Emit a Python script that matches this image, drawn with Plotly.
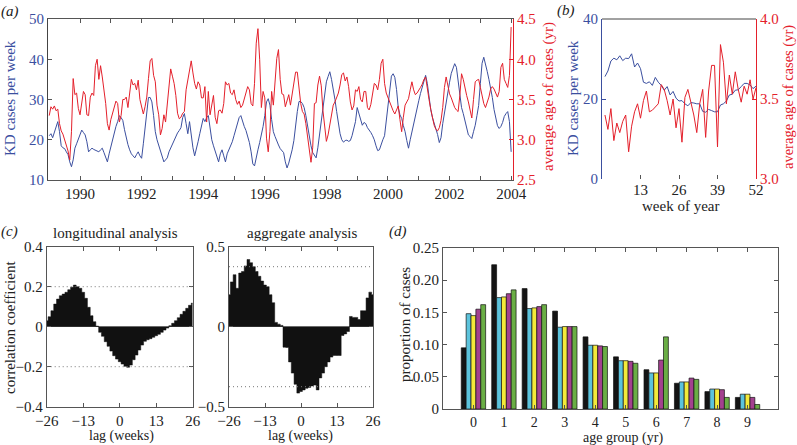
import plotly.graph_objects as go

# ---------------- data ----------------
# (a) weekly series, resampled (one value every 1/18 year from 1989.0)
A_START_YEAR = 1989.0
A_STEP_YEARS = 1 / 18
kd_cases_a = [
    21, 21.5, 20.5, 22, 23, 24.5, 22, 18.5, 18, 17.8,
    17, 16.3, 14.5, 13.3, 15, 17.9, 19, 20.3, 21.5, 22.4,
    21.8, 21.2, 19.5, 17, 17.5, 17.9, 17.6, 17.4, 17.2, 17,
    17.5, 17.9, 16.8, 15.5, 14.5, 16.5, 18.3, 20, 22, 23.3,
    24.5, 26, 25.5, 24.8, 22.5, 20.5, 18.8, 17.5, 16.5, 16,
    15.5, 16.3, 17, 16, 15.4, 19, 23, 27.5, 30.5, 30.5,
    29.4, 26, 22, 20, 18.7, 17.5, 16.2, 14.5, 15, 15.5,
    17, 18, 19, 19.7, 21, 21.7, 22.3, 23, 25.5, 26.5,
    24, 21.5, 24.5, 21, 18, 16, 17.5, 19.5, 21.5, 23.5,
    25.3, 24.5, 25.5, 26, 23, 20, 18.5, 17, 15.5, 14.5,
    16.5, 17.5, 16, 14.5, 16.5, 17.5, 18.3, 19.5, 21, 22.5,
    24, 25.5, 26, 24.5, 23.3, 22.3, 21, 19.3, 17, 14,
    13.5, 15.8, 17.5, 19.3, 21, 23.3, 26, 29.4, 30.2, 28.6,
    25, 22, 20.8, 19.5, 18.7, 17.8, 17.4, 16.8, 14.5, 13,
    14.2, 15.8, 17.5, 19.8, 24, 27, 29.5, 29.5, 29, 28,
    26, 23.5, 20.5, 18.5, 16.8, 16, 15.5, 18, 21.5, 24,
    27, 30.5, 34.4, 35.7, 36.9, 35, 32.8, 30, 27, 24,
    21.5, 20, 19.4, 19.8, 19.9, 19.6, 19.8, 21, 22.5, 24.5,
    28, 26.5, 24.5, 23.6, 24.3, 24, 23, 22.5, 21.8, 21,
    20, 18.5, 17.3, 17.5, 19, 20, 21, 25, 29.5, 33,
    35.8, 36.4, 35.5, 32.5, 28, 26.2, 25.3, 23.5, 22, 19.8,
    17.9, 20, 22, 24.5, 26.5, 28, 29.7, 31.5, 33, 35,
    36, 34, 30.5, 27.5, 25.5, 24.2, 23, 21.3, 19.3, 20.5,
    24, 26.8, 29, 31.8, 34.3, 36.5, 37.8, 38.9, 38, 35,
    31, 28, 26.5, 24.5, 22.8, 21.2, 20.8, 20.3, 22, 23.6,
    26, 28.5, 34, 39, 40.5, 39, 37, 35, 33, 30.5,
    27.5, 25.5, 23.5, 22.8, 23.3, 24.3, 25.8, 26.5, 27, 24.5,
    17,
]
mean_age_a = [
    3.30, 3.41, 3.38, 3.42, 3.36, 3.38, 3.20, 3.11, 3.07, 3.00,
    2.94, 2.86, 2.75, 3.10, 3.76, 3.56, 3.58, 3.39, 3.31, 3.47,
    3.60, 3.56, 3.31, 3.30, 3.53, 3.58, 3.55, 3.92, 4.00, 3.75,
    3.92, 3.78, 3.62, 3.45, 3.20, 3.12, 3.25, 3.33, 3.42, 3.48,
    3.45, 3.22, 3.30, 3.50, 3.50, 3.53, 3.40, 3.55, 3.75, 3.68,
    3.70, 3.62, 3.74, 3.50, 3.40, 3.32, 3.41, 3.53, 3.76, 3.98,
    4.01, 3.80, 3.72, 3.43, 3.31, 3.06, 3.14, 3.31, 3.22, 3.45,
    3.75, 3.88, 3.79, 3.70, 3.55, 3.33, 3.26, 3.28, 3.33, 3.35,
    3.62, 3.75, 3.90, 3.98, 3.83, 3.70, 3.63, 3.72, 3.68, 3.52,
    3.52, 3.66, 3.22, 3.60, 3.31, 3.45, 3.55, 3.28, 3.20, 3.36,
    3.37, 3.33, 3.45, 3.72, 3.68, 3.70, 3.58, 3.56, 3.62, 3.50,
    3.44, 3.48, 3.40, 3.43, 3.50, 3.60, 3.66, 3.62, 3.45, 3.42,
    3.70, 4.20, 4.38, 4.00, 3.40, 3.60, 3.52, 3.02, 2.85, 3.10,
    3.60, 3.43, 3.72, 4.01, 4.12, 3.75, 3.57, 3.56, 3.41, 3.50,
    3.56, 3.43, 3.56, 3.70, 3.84, 3.84, 3.62, 3.45, 3.35, 3.32,
    3.20, 3.02, 2.86, 2.72, 2.90, 3.45, 3.46, 3.68, 3.79, 3.67,
    3.36, 3.17, 2.98, 3.06, 3.18, 3.35, 3.43, 3.47, 3.52, 3.58,
    3.68, 3.81, 3.83, 3.73, 3.78, 3.66, 3.47, 3.37, 3.42, 3.62,
    3.60, 3.66, 3.50, 3.47, 3.60, 3.60, 3.40, 3.37, 3.44, 3.55,
    3.70, 3.68, 3.62, 3.75, 3.95, 4.00, 3.70, 3.58, 3.52, 3.46,
    3.40, 3.36, 3.32, 3.38, 3.42, 3.25, 3.10, 3.28, 3.43, 3.47,
    3.51, 3.62, 3.72, 3.62, 3.56, 3.58, 3.61, 3.65, 3.69, 3.75,
    3.78, 3.62, 3.50, 3.38, 3.28, 3.18, 3.13, 3.11, 3.15, 3.24,
    3.40, 3.65, 3.78, 3.68, 3.57, 3.52, 3.45, 3.40, 3.37, 3.35,
    3.55, 3.82, 3.75, 3.64, 3.55, 3.47, 3.37, 3.27, 3.50, 3.72,
    3.74, 3.75, 3.65, 3.54, 3.45, 3.40, 3.46, 3.53, 3.63, 3.66,
    3.63, 3.58, 3.53, 3.60, 3.90, 3.95, 3.75, 3.70, 3.65, 3.80,
    4.40,
]
year_ticks_a = list(range(1990, 2005))
year_labels_a = [str(y) if y % 2 == 0 else "" for y in year_ticks_a]

# (b) average over the year
weeks_b = list(range(1, 53))
kd_cases_b = [
    25.6, 27.0, 29.5, 30.2, 29.8, 30.8, 29.6, 30.2, 30.1, 31.3,
    28.0, 29.0, 27.6, 24.2, 23.9, 24.3, 23.4, 25.4, 24.2, 23.4,
    22.2, 23.1, 21.0, 21.9, 20.2, 19.5, 19.6, 18.8, 18.3, 19.1,
    19.0, 18.8, 18.8, 16.9, 16.7, 17.4, 17.1, 16.8, 16.8, 18.5,
    18.8, 19.5, 21.0, 21.2, 22.2, 22.3, 23.1, 23.9, 23.9, 23.5,
    22.6, 23.2,
]
mean_age_b = [
    3.40, 3.31, 3.44, 3.24, 3.35, 3.29, 3.36, 3.40, 3.17, 3.33,
    3.42, 3.47, 3.38, 3.49, 3.55, 3.42, 3.43, 3.45, 3.47, 3.59,
    3.56, 3.49, 3.40, 3.50, 3.32, 3.44, 3.23, 3.51, 3.56, 3.48,
    3.40, 3.29, 3.47, 3.56, 3.26, 3.55, 3.71, 3.71, 3.20, 3.84,
    3.73, 3.47, 3.65, 3.53, 3.67, 3.56, 3.48, 3.58, 3.53, 3.62,
    3.50, 3.57,
]

# (c) cross-correlations
lags = list(range(-26, 27))
corr_longitudinal = [
    0.03, 0.05, 0.08, 0.113, 0.138, 0.155, 0.163, 0.172, 0.185, 0.197,
    0.208, 0.2, 0.192, 0.172, 0.142, 0.097, 0.055, 0.025, 0.003, -0.028,
    -0.048, -0.075, -0.098, -0.122, -0.145, -0.162, -0.175, -0.187, -0.198, -0.203,
    -0.192, -0.165, -0.142, -0.117, -0.092, -0.073, -0.065, -0.06, -0.053, -0.045,
    -0.038, -0.028, -0.017, -0.007, 0.005, 0.017, 0.03, 0.045, 0.062, 0.077,
    0.092, 0.107, 0.118,
]
corr_aggregate = [
    0.2, 0.28, 0.325, 0.24, 0.335, 0.345, 0.38, 0.42, 0.40, 0.375,
    0.345, 0.315, 0.285, 0.26, 0.25, 0.2, 0.15, 0.027, 0.016, 0.008,
    -0.128, -0.13, -0.22, -0.29, -0.36, -0.415, -0.405, -0.395, -0.385, -0.38,
    -0.37, -0.365, -0.395, -0.32, -0.29, -0.25, -0.22, -0.19, -0.18, -0.18,
    -0.18, -0.055, -0.045, -0.03, 0.064, 0.058, 0.058, 0.045, 0.1, 0.1,
    0.18, 0.216, 0.2,
]
sig_longitudinal = 0.2
sig_aggregate = 0.375

# (d) age distribution
age_groups = list(range(10))
prop_series_1 = [0.095, 0.224, 0.187, 0.152, 0.112, 0.081, 0.061, 0.040, 0.027, 0.018]
prop_series_2 = [0.148, 0.173, 0.156, 0.127, 0.099, 0.075, 0.056, 0.042, 0.031, 0.023]
prop_series_3 = [0.145, 0.174, 0.157, 0.128, 0.099, 0.075, 0.056, 0.042, 0.031, 0.023]
prop_series_4 = [0.155, 0.179, 0.159, 0.128, 0.098, 0.074, 0.076, 0.048, 0.030, 0.018]
prop_series_5 = [0.162, 0.185, 0.162, 0.128, 0.097, 0.071, 0.112, 0.046, 0.018, 0.007]
prop_ticks = [0, 0.05, 0.10, 0.15, 0.20, 0.25]
prop_tick_labels = ["0", "0.05", "0.10", "0.15", "0.20", "0.25"]

# ---------------- style ----------------
W, H = 797, 445
FONT = "Liberation Serif"
BLUE = "#3b4f9f"
RED = "#e4202b"
AX = "#555555"
BAR_COLORS = ["#141414", "#5cc3dc", "#f3ea3a", "#a3418f", "#6aae45"]


def px(x):
    return x / W


def py(y):
    return 1 - y / H


fig = go.Figure()

xs_a = [A_START_YEAR + i * A_STEP_YEARS for i in range(len(kd_cases_a))]
fig.add_trace(go.Scatter(x=xs_a, y=kd_cases_a, mode="lines", line=dict(color=BLUE, width=1),
                         xaxis="x", yaxis="y", showlegend=False))
xs_r = [A_START_YEAR + i * A_STEP_YEARS for i in range(len(mean_age_a))]
fig.add_trace(go.Scatter(x=xs_r, y=mean_age_a, mode="lines", line=dict(color=RED, width=1),
                         xaxis="x", yaxis="y2", showlegend=False))

fig.add_trace(go.Scatter(x=weeks_b, y=kd_cases_b, mode="lines", line=dict(color=BLUE, width=1),
                         xaxis="x2", yaxis="y3", showlegend=False))
fig.add_trace(go.Scatter(x=weeks_b, y=mean_age_b, mode="lines", line=dict(color=RED, width=1),
                         xaxis="x2", yaxis="y4", showlegend=False))

# correlation "bars" (contiguous unit-width columns) drawn as a filled step curve
fig.add_trace(go.Scatter(x=lags, y=corr_longitudinal, mode="lines", line=dict(color="#111", width=0.5, shape="hvh"),
                         fill="tozeroy", fillcolor="#111", xaxis="x3", yaxis="y5", showlegend=False))
fig.add_trace(go.Scatter(x=lags, y=corr_aggregate, mode="lines", line=dict(color="#111", width=0.5, shape="hvh"),
                         fill="tozeroy", fillcolor="#111", xaxis="x4", yaxis="y6", showlegend=False))

bw = 0.16
for i, (vals, col) in enumerate(zip([prop_series_1, prop_series_2, prop_series_3, prop_series_4, prop_series_5],
                                    BAR_COLORS)):
    fig.add_trace(go.Bar(x=age_groups, y=vals, width=bw, offset=-0.4 + i * bw,
                         marker=dict(color=col, line=dict(color="#111", width=0.7)),
                         xaxis="x5", yaxis="y7", showlegend=False))

tickfont = dict(family=FONT, size=15, color="#222")
common = dict(showgrid=False, zeroline=False, ticks="inside", ticklen=4, tickwidth=1, tickcolor=AX,
              showline=True, linewidth=1, linecolor=AX, tickfont=tickfont, automargin=False)

dom_a_y = [py(180), py(19)]
dom_c_y = [py(406.7), py(246.7)]
dom_d_y = [py(409), py(248)]

layout_axes = dict(
    xaxis=dict(common, domain=[px(48), px(513)], anchor="y", range=[1988.96, 2004.06],
               tickvals=year_ticks_a, ticktext=year_labels_a, mirror="ticks"),
    yaxis=dict(common, domain=dom_a_y, anchor="x", range=[10, 50], tickvals=[10, 20, 30, 40, 50],
               tickfont=dict(family=FONT, size=15, color=BLUE), linecolor="#444"),
    yaxis2=dict(common, overlaying="y", side="right", anchor="x", range=[2.5, 4.5],
                tickvals=[2.5, 3.0, 3.5, 4.0, 4.5], tickformat=".1f",
                tickfont=dict(family=FONT, size=15, color=RED), linecolor=RED, tickcolor=RED),
    xaxis2=dict(common, domain=[px(602), px(756)], anchor="y3", range=[0, 52],
                tickvals=[13, 26, 39, 52], showline=False),
    yaxis3=dict(common, domain=[py(179), py(19)], anchor="x2", range=[0, 40], tickvals=[0, 20, 40],
                tickfont=dict(family=FONT, size=15, color=BLUE), linecolor=BLUE, tickcolor=BLUE),
    yaxis4=dict(common, overlaying="y3", side="right", anchor="x2", range=[3, 4],
                tickvals=[3.0, 3.5, 4.0], tickformat=".1f",
                tickfont=dict(family=FONT, size=15, color=RED), linecolor=RED, tickcolor=RED),
    xaxis3=dict(common, domain=[px(46.7), px(192.7)], anchor="y5", range=[-26, 26],
                tickvals=[-26, -13, 0, 13, 26], mirror="ticks"),
    yaxis5=dict(common, domain=dom_c_y, anchor="x3", range=[-0.4, 0.4],
                tickvals=[-0.4, -0.2, 0, 0.2, 0.4], mirror="ticks",
                zeroline=True, zerolinecolor="#888", zerolinewidth=1),
    xaxis4=dict(common, domain=[px(229), px(373)], anchor="y6", range=[-26, 26],
                tickvals=[-26, -13, 0, 13, 26], mirror="ticks"),
    yaxis6=dict(common, domain=dom_c_y, anchor="x4", range=[-0.5, 0.5],
                tickvals=[-0.5, 0, 0.5], mirror="ticks",
                zeroline=True, zerolinecolor="#888", zerolinewidth=1),
    xaxis5=dict(common, domain=[px(443), px(778)], anchor="y7", range=[-1, 10],
                tickvals=age_groups, mirror="ticks", tickfont=dict(family=FONT, size=14, color="#222")),
    yaxis7=dict(common, domain=dom_d_y, anchor="x5", range=[0, 0.25],
                tickvals=prop_ticks, ticktext=prop_tick_labels, mirror="ticks"),
)

DOT = dict(color="#777", width=1, dash="1px,3px")
shapes = [
    # top border of panel (b)
    dict(type="line", xref="x2 domain", yref="y3 domain", x0=0, x1=1, y0=1, y1=1,
         line=dict(color="#444", width=1)),
    # significance lines in (c)
    dict(type="line", xref="x3 domain", yref="y5", x0=0, x1=1, y0=sig_longitudinal, y1=sig_longitudinal, line=DOT),
    dict(type="line", xref="x3 domain", yref="y5", x0=0, x1=1, y0=-sig_longitudinal, y1=-sig_longitudinal, line=DOT),
    dict(type="line", xref="x4 domain", yref="y6", x0=0, x1=1, y0=sig_aggregate, y1=sig_aggregate, line=DOT),
    dict(type="line", xref="x4 domain", yref="y6", x0=0, x1=1, y0=-sig_aggregate, y1=-sig_aggregate, line=DOT),
]


def ann(text, x, y, color="#222", angle=0, size=15, italic=False):
    t = f"<i>{text}</i>" if italic else text
    return dict(text=t, x=px(x), y=py(y), xref="paper", yref="paper", showarrow=False,
                textangle=angle, xanchor="center", yanchor="middle",
                font=dict(family=FONT, size=size, color=color))


annotations = [
    ann("(a)", 10, 11, italic=True),
    ann("(b)", 566, 10, italic=True),
    ann("(c)", 9, 231, italic=True),
    ann("(d)", 398, 231, italic=True),
    ann("KD cases per week", 10, 98, color=BLUE, angle=-90),
    ann("average age of cases (yr)", 548, 97, color=RED, angle=-90),
    ann("KD cases per week", 573, 98, color=BLUE, angle=-90),
    ann("average age of cases (yr)", 788, 97, color=RED, angle=-90, size=14.5),
    ann("week of year", 680, 206),
    ann("longitudinal analysis", 115, 233),
    ann("aggregate analysis", 302, 233),
    ann("correlation coefficient", 10, 328, angle=-90),
    ann("lag (weeks)", 121, 436, size=14),
    ann("lag (weeks)", 300, 436, size=14),
    ann("proportion of cases", 405, 325, angle=-90),
    ann("age group (yr)", 623, 438, size=14),
]

fig.update_layout(
    template="none",
    width=W, height=H, autosize=False,
    margin=dict(l=0, r=0, t=0, b=0, pad=0, autoexpand=False),
    paper_bgcolor="white", plot_bgcolor="white",
    font=dict(family=FONT, size=15, color="#222"),
    barmode="overlay",
    shapes=shapes, annotations=annotations,
    **layout_axes,
)

# remove the browser's default page margin so the 797x445 figure fills the window exactly
fig.write_html("out.html", config={"displayModeBar": False, "staticPlot": True},
               post_script="document.body.style.margin='0';document.body.style.overflow='hidden';")
